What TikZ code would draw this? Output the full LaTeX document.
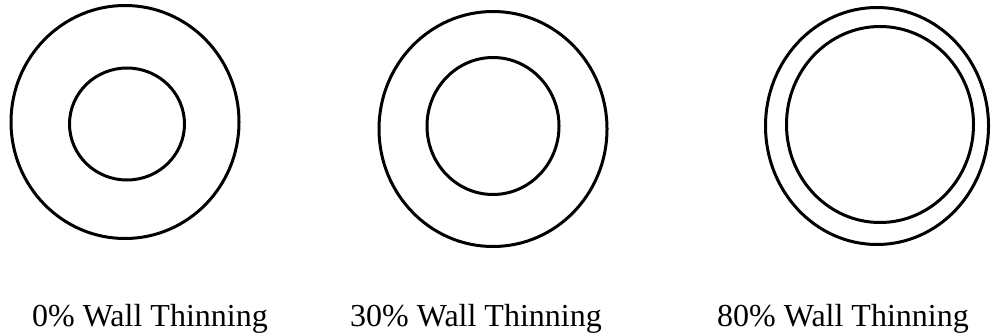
\documentclass[tikz,border=0pt]{standalone}
\usepackage{fontspec}
\setmainfont{Liberation Serif}
\usepackage{tikz}

\tikzset{
    pipe/.style={line width=3pt, black},
    caption/.style={anchor=base, font=\fontsize{32}{38}\selectfont, inner sep=0pt}
}

\begin{document}
\begin{tikzpicture}[x=1pt, y=-1pt]

% Frame of the picture
\useasboundingbox (0,0) rectangle (992,335);

% 0% wall thinning
\draw[pipe] (125,122) ellipse [x radius=114, y radius=116.5];
\draw[pipe] (127,124) ellipse [x radius=57.5, y radius=56];
\node[caption] (zero) at (150,326) {0\% Wall Thinning};

% 30% wall thinning
\draw[pipe] (493,129) ellipse [x radius=114, y radius=117.5];
\draw[pipe] (493,126) ellipse [x radius=66, y radius=68.5];
\node[caption] (thirty) at (476,326) {30\% Wall Thinning};

% 80% wall thinning
\draw[pipe] (877,126) ellipse [x radius=111.5, y radius=118.5];
\draw[pipe] (880,124.5) ellipse [x radius=93.5, y radius=98];
\node[caption] (eighty) at (843,326) {80\% Wall Thinning};

\end{tikzpicture}
\end{document}
